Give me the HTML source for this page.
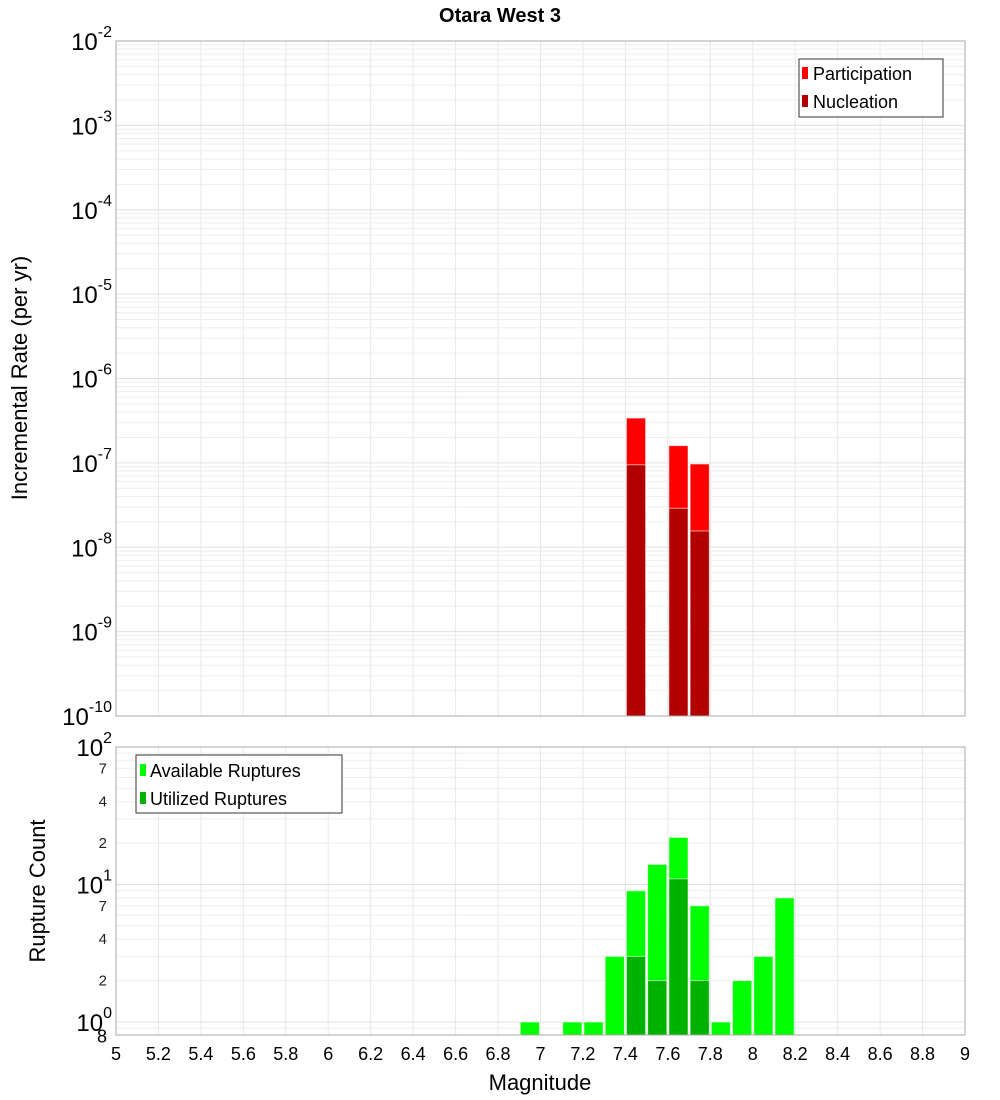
<!DOCTYPE html>
<html><head><meta charset="utf-8">
<style>
body{margin:0;background:#fff;}
svg{display:block;font-family:"Liberation Sans","DejaVu Sans",sans-serif;}
</style></head>
<body>
<svg id="chart" width="1000" height="1100" viewBox="0 0 1000 1100" xmlns="http://www.w3.org/2000/svg">
<text x="500" y="22" text-anchor="middle" font-size="20" font-weight="bold" fill="#000">Otara West 3</text>
<g id="top-grid"></g>
<g id="bot-grid"></g>
<g id="top-bars"></g>
<g id="bot-bars"></g>
<rect x="116" y="41" width="849" height="675" fill="none" stroke="#aaa"/>
<rect x="116" y="747" width="849" height="288" fill="none" stroke="#aaa"/>
<g id="axes-text"></g>
<text transform="translate(27,378) rotate(-90)" text-anchor="middle" font-size="22" fill="#000">Incremental Rate (per yr)</text>
<text transform="translate(45,891) rotate(-90)" text-anchor="middle" font-size="22" fill="#000">Rupture Count</text>
<text x="540" y="1090" text-anchor="middle" font-size="22" fill="#000">Magnitude</text>
<g>
<rect x="799" y="59" width="144" height="58" fill="#fff" stroke="#333"/>
<rect x="802" y="67" width="6" height="12" fill="#ff0000"/>
<text x="813" y="80" font-size="18" fill="#000">Participation</text>
<rect x="802" y="95" width="6" height="12" fill="#b20000"/>
<text x="813" y="108" font-size="18" fill="#000">Nucleation</text>
</g>
<g>
<rect x="136" y="755" width="206" height="58" fill="#fff" stroke="#333"/>
<rect x="140" y="764" width="6" height="12" fill="#00ff00"/>
<text x="150" y="777" font-size="18" fill="#000">Available Ruptures</text>
<rect x="140" y="792" width="6" height="12" fill="#00b200"/>
<text x="150" y="805" font-size="18" fill="#000">Utilized Ruptures</text>
</g>
</svg>
<script>
const mags = [7.45, 7.65, 7.75];
const participation = [3.4e-7, 1.6e-7, 9.7e-8];
const nucleation = [9.5e-8, 2.9e-8, 1.56e-8];
const countMags = [6.95, 7.15, 7.25, 7.35, 7.45, 7.55, 7.65, 7.75, 7.85, 7.95, 8.05, 8.15];
const available = [1, 1, 1, 3, 9, 14, 22, 7, 1, 2, 3, 8];
const utilMags = [7.45, 7.55, 7.65, 7.75];
const utilized = [3, 2, 11, 2];
const xTicks = ["5","5.2","5.4","5.6","5.8","6","6.2","6.4","6.6","6.8","7","7.2","7.4","7.6","7.8","8","8.2","8.4","8.6","8.8","9"];
const topExps = [-2,-3,-4,-5,-6,-7,-8,-9,-10];
const botMinor = [2,4,7];

const NS="http://www.w3.org/2000/svg";
const X0=116,X1=965,XMIN=5,XMAX=9;
const x=m=>X0+(m-XMIN)/(XMAX-XMIN)*(X1-X0);
const TY0=41,TY1=716;
const yTop=v=>TY0+(-2-Math.log10(v))/8*(TY1-TY0);
const BY0=747,BDEC=137.5,BY1=1035;
const yBot=v=>BY0+(2-Math.log10(v))*BDEC;
function mk(tag,attrs,parent){const e=document.createElementNS(NS,tag);for(const k in attrs)e.setAttribute(k,attrs[k]);parent.appendChild(e);return e;}
const tg=document.getElementById('top-grid'),bg=document.getElementById('bot-grid');
const tb=document.getElementById('top-bars'),bb=document.getElementById('bot-bars');
const at=document.getElementById('axes-text');
// vertical grid
for(let i=0;i<xTicks.length;i++){
  const m=parseFloat(xTicks[i]);const px=x(m);
  const l1=mk('line',{x1:px,x2:px,y1:TY0,y2:TY1,stroke:'#e8e8e8'},tg);
  
  
  const l2=mk('line',{x1:px,x2:px,y1:BY0,y2:BY1,stroke:'#e8e8e8'},bg);
  
  
  const t=mk('text',{x:px,y:1060,'text-anchor':'middle','font-size':18,fill:'#000'},at);
  t.textContent=xTicks[i];
  
  
}
// top horizontal grid
for(let e=-10;e<-2;e++){
  for(let k=1;k<10;k++){
    const py=yTop(k*Math.pow(10,e));
    const l=mk('line',{x1:X0,x2:X1,y1:py,y2:py,stroke:k==1?'#e0e0e0':'#eeeeee'},tg);
    
    
  }
}
topExps.forEach(e=>{
  const py=yTop(Math.pow(10,e));
  const t=mk('text',{x:112,y:py+9,'text-anchor':'end','font-size':24,fill:'#000'},at);
  
  
  const b=mk('tspan',{},t);b.textContent='10';
  const s=mk('tspan',{dy:-13,'font-size':16},t);s.textContent=String(e);
});
// bottom horizontal grid
for(let e=-1;e<2;e++){
  for(let k=1;k<10;k++){
    const v=k*Math.pow(10,e);const py=yBot(v);
    if(py>BY1||py<BY0)continue;
    const l=mk('line',{x1:X0,x2:X1,y1:py,y2:py,stroke:k==1?'#e0e0e0':'#eeeeee'},bg);
    
    
  }
}
[0,1,2].forEach(e=>{
  const py=yBot(Math.pow(10,e));
  const t=mk('text',{x:112,y:py+9,'text-anchor':'end','font-size':24,fill:'#000'},at);
  
  
  const b=mk('tspan',{},t);b.textContent='10';
  const s=mk('tspan',{dy:-13,'font-size':16},t);s.textContent=String(e);
});
[0,1].forEach(e=>botMinor.forEach(k=>{
  const py=yBot(k*Math.pow(10,e));
  const t=mk('text',{x:107,y:py+5,'text-anchor':'end','font-size':15,fill:'#222'},at);
  t.textContent=String(k);
  
  
}));
{const t=mk('text',{x:107,y:yBot(0.8)+7,'text-anchor':'end','font-size':18,fill:'#000'},at);t.textContent='8';

}
// bars
const bw=0.1*(X1-X0)/(XMAX-XMIN);
function bar(parent,m,top,bottom,fill,name){
  const r=mk('rect',{x:x(m-0.05)+1,y:top,width:bw-2,height:Math.max(0,bottom-top),fill:fill,stroke:'#fff','stroke-opacity':0.6,'stroke-width':1},parent);
  
  
}
mags.forEach((m,i)=>bar(tb,m,yTop(participation[i]),TY1,'#ff0000','participation-bar'));
mags.forEach((m,i)=>bar(tb,m,yTop(nucleation[i]),TY1,'#b20000','nucleation-bar'));
countMags.forEach((m,i)=>bar(bb,m,yBot(available[i]),BY1,'#00ff00','available-bar'));
utilMags.forEach((m,i)=>bar(bb,m,yBot(utilized[i]),BY1,'#00b200','utilized-bar'));
</script>
</body></html>
